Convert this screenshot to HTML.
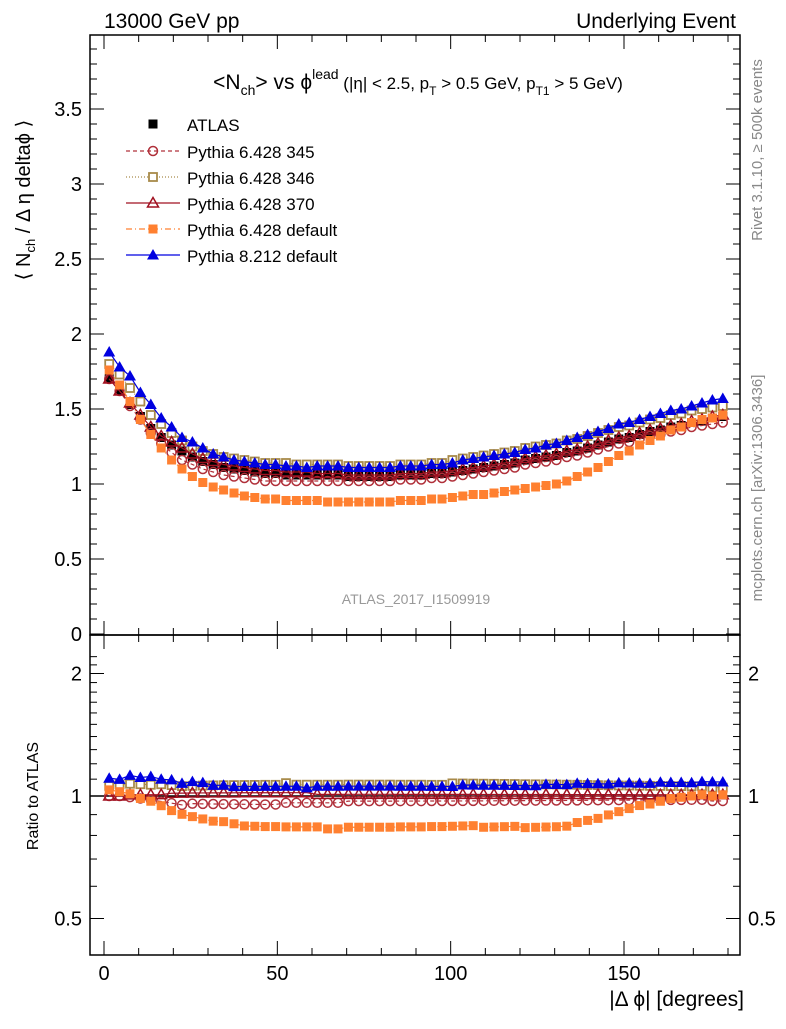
<!DOCTYPE html>
<html><head><meta charset="utf-8"><style>
body{margin:0;background:#fff;}
svg{font-family:"Liberation Sans",sans-serif;}
</style></head><body>
<svg id="c" width="786" height="1024" xmlns="http://www.w3.org/2000/svg">
<text x="104" y="28" font-size="21">13000 GeV pp</text>
<text x="736" y="28" font-size="21" text-anchor="end">Underlying Event</text>
<text x="418" y="89" font-size="21" text-anchor="middle">&lt;N<tspan font-size="14" dy="6">ch</tspan><tspan dy="-6">&gt; vs ϕ</tspan><tspan font-size="14" dy="-10">lead</tspan><tspan font-size="17" dy="10"> (|η| &lt; 2.5, p</tspan><tspan font-size="12" dy="6">T</tspan><tspan font-size="17" dy="-6"> &gt; 0.5 GeV, p</tspan><tspan font-size="12" dy="6">T1</tspan><tspan font-size="17" dy="-6"> &gt; 5 GeV)</tspan></text>
<text transform="translate(30,200) rotate(-90)" font-size="20" text-anchor="middle">⟨ N<tspan font-size="13" dy="5">ch</tspan><tspan dy="-5"> / Δ η deltaϕ ⟩</tspan></text>
<text transform="translate(38,796) rotate(-90)" font-size="16" text-anchor="middle">Ratio to ATLAS</text>
<text x="744" y="1006" font-size="21" text-anchor="end">|Δ ϕ| [degrees]</text>
<text transform="translate(762,150) rotate(-90)" font-size="15" fill="#888" text-anchor="middle">Rivet 3.1.10, ≥ 500k events</text>
<text transform="translate(762,488) rotate(-90)" font-size="15" fill="#888" text-anchor="middle">mcplots.cern.ch [arXiv:1306.3436]</text>
<text x="416" y="604" font-size="14" fill="#999" text-anchor="middle">ATLAS_2017_I1509919</text>
<g id="g"></g>
</svg>
<script>
const phi=[];for(let i=0;i<60;i++)phi.push(1.5+3*i);
const atlas=[1.70,1.62,1.53,1.45,1.37,1.31,1.26,1.22,1.18,1.15,1.13,1.11,1.10,1.09,1.08,1.07,1.07,1.06,1.06,1.06,
1.06,1.06,1.06,1.05,1.05,1.05,1.05,1.05,1.06,1.06,
1.06,1.07,1.07,1.08,1.09,1.10,1.11,1.12,1.13,1.14,
1.16,1.17,1.18,1.19,1.21,1.22,1.24,1.26,1.28,1.30,
1.31,1.33,1.35,1.36,1.38,1.39,1.41,1.42,1.44,1.45];
const p345=[1.70,1.62,1.52,1.43,1.34,1.27,1.21,1.16,1.13,1.10,1.08,1.06,1.05,1.04,1.03,1.02,1.02,1.02,1.02,1.02,
1.02,1.02,1.02,1.02,1.02,1.02,1.02,1.02,1.03,1.03,
1.03,1.04,1.04,1.05,1.06,1.07,1.08,1.09,1.10,1.11,
1.13,1.14,1.15,1.16,1.18,1.19,1.21,1.23,1.25,1.27,
1.28,1.30,1.32,1.33,1.35,1.36,1.38,1.39,1.40,1.41];
const p346=[1.80,1.73,1.64,1.55,1.46,1.40,1.34,1.29,1.25,1.22,1.20,1.18,1.17,1.16,1.15,1.14,1.14,1.14,1.13,1.13,
1.13,1.13,1.13,1.12,1.12,1.12,1.12,1.12,1.13,1.13,
1.13,1.14,1.14,1.16,1.17,1.18,1.19,1.20,1.21,1.22,
1.24,1.25,1.26,1.27,1.29,1.30,1.32,1.34,1.36,1.38,
1.39,1.41,1.43,1.44,1.46,1.47,1.49,1.50,1.51,1.52];
const p370=[1.70,1.62,1.54,1.46,1.38,1.32,1.28,1.24,1.20,1.17,1.15,1.13,1.12,1.11,1.10,1.09,1.09,1.08,1.08,1.08,
1.07,1.07,1.07,1.06,1.06,1.06,1.06,1.06,1.07,1.07,
1.07,1.08,1.08,1.09,1.10,1.11,1.12,1.13,1.14,1.15,
1.17,1.18,1.19,1.20,1.22,1.23,1.25,1.27,1.29,1.31,
1.32,1.34,1.36,1.37,1.39,1.40,1.42,1.43,1.45,1.46];
const p6def=[1.76,1.66,1.55,1.43,1.33,1.24,1.16,1.10,1.05,1.01,0.98,0.96,0.94,0.92,0.91,0.90,0.90,0.89,0.89,0.89,
0.89,0.88,0.88,0.88,0.88,0.88,0.88,0.88,0.89,0.89,
0.89,0.90,0.90,0.91,0.92,0.93,0.93,0.94,0.95,0.96,
0.97,0.98,0.99,1.00,1.02,1.05,1.08,1.11,1.15,1.19,
1.22,1.26,1.29,1.32,1.36,1.38,1.41,1.43,1.44,1.46];
const p8def=[1.88,1.78,1.72,1.61,1.53,1.44,1.38,1.31,1.28,1.24,1.20,1.18,1.16,1.15,1.14,1.13,1.13,1.12,1.12,1.11,
1.12,1.12,1.12,1.11,1.11,1.11,1.11,1.11,1.12,1.12,
1.12,1.13,1.13,1.14,1.16,1.17,1.18,1.19,1.20,1.21,
1.23,1.24,1.26,1.27,1.29,1.31,1.33,1.35,1.37,1.40,
1.41,1.43,1.45,1.47,1.49,1.50,1.52,1.54,1.56,1.57];
const mainTicks=[0,0.5,1,1.5,2,2.5,3,3.5];
const ratioTicks=[0.5,1,2];
const xTicks=[0,50,100,150];

const NS="http://www.w3.org/2000/svg",g=document.getElementById('g');
const X=v=>104+v*520/150, Y=v=>634-v*150, R=v=>796-122.5*Math.log2(v);
const L=90,RT=740,T=35,MB=635,B=955;
function el(t,a,p){const e=document.createElementNS(NS,t);for(const k in a)e.setAttribute(k,a[k]);(p||g).appendChild(e);return e;}
let f=el('rect',{x:L,y:T,width:RT-L,height:MB-T,fill:'none',stroke:'#000','stroke-width':1.5});


f=el('rect',{x:L,y:MB,width:RT-L,height:B-MB,fill:'none',stroke:'#000','stroke-width':1.5});


for(let v=0;v<=3.95;v+=0.1){const y=Y(v);if(y<T)break;const big=Math.abs(v*2-Math.round(v*2))<1e-6;
el('line',{x1:L,x2:L+(big?14:7),y1:y,y2:y,stroke:'#000'});el('line',{x1:RT,x2:RT-(big?14:7),y1:y,y2:y,stroke:'#000'});}
mainTicks.forEach(v=>{const t=el('text',{x:82,y:Y(v)+7,'font-size':20,'text-anchor':'end'});t.textContent=v;

});
[0.5,0.6,0.7,0.8,0.9,1,1.1,1.2,1.3,1.4,1.5,1.6,1.7,1.8,1.9,2,2.1,2.2].forEach(v=>{const y=R(v);if(y<MB)return;const big=ratioTicks.includes(v);
el('line',{x1:L,x2:L+(big?14:7),y1:y,y2:y,stroke:'#000'});el('line',{x1:RT,x2:RT-(big?14:7),y1:y,y2:y,stroke:'#000'});});
ratioTicks.forEach(v=>{let t=el('text',{x:82,y:R(v)+7,'font-size':20,'text-anchor':'end'});t.textContent=v;


t=el('text',{x:748,y:R(v)+7,'font-size':20});t.textContent=v;

});
for(let v=0;v<=185;v+=10){const x=X(v);if(x>RT)break;const big=v%50==0;
[[T,1],[MB,-1],[MB,1],[B,-1]].forEach(([y0,d])=>el('line',{x1:x,x2:x,y1:y0,y2:y0+d*(big?14:7),stroke:'#000'}));}
xTicks.forEach(v=>{const t=el('text',{x:X(v),y:980,'font-size':20,'text-anchor':'middle'});t.textContent=v;

});
el('line',{x1:L,x2:RT,y1:R(1),y2:R(1),stroke:'#000','stroke-width':1.5});

function marker(p,x,y,m,c){
 if(m=='sq')el('rect',{x:x-4.5,y:y-4.5,width:9,height:9,fill:c},p);
 else if(m=='osq')el('rect',{x:x-4,y:y-4,width:8,height:8,fill:'#fff',stroke:c,'stroke-width':1.8},p);
 else if(m=='oc')el('circle',{cx:x,cy:y,r:4.5,fill:'none',stroke:c,'stroke-width':1.5},p);
 else if(m=='tri')el('polygon',{points:`${x},${y-6} ${x-6},${y+4.5} ${x+6},${y+4.5}`,fill:c},p);
 else if(m=='otri')el('polygon',{points:`${x},${y-5.5} ${x-5.5},${y+4} ${x+5.5},${y+4}`,fill:'none',stroke:c,'stroke-width':1.5},p);
}
const series=[
 {n:'pythia-6428-345',d:p345,c:'#b0303a',m:'oc',dash:'4,3',lab:'Pythia 6.428 345'},
 {n:'pythia-6428-346',d:p346,c:'#a88a4a',m:'osq',dash:'1,2',lab:'Pythia 6.428 346'},
 {n:'pythia-6428-370',d:p370,c:'#a01020',m:'otri',dash:'',lab:'Pythia 6.428 370'},
 {n:'pythia-6428-default',d:p6def,c:'#ff8030',m:'sq',dash:'6,3,1,3',lab:'Pythia 6.428 default'},
 {n:'pythia-8212-default',d:p8def,c:'#0000e0',m:'tri',dash:'',lab:'Pythia 8.212 default'}];
let ga=el('g',{});


phi.forEach((p,i)=>marker(ga,X(p),Y(atlas[i]),'sq','#000'));
series.forEach(s=>{
 const gm=el('g',{});
 
 
 el('polyline',{points:phi.map((p,i)=>X(p)+','+Y(s.d[i])).join(' '),fill:'none',stroke:s.c,'stroke-width':1.2,'stroke-dasharray':s.dash},gm);
 phi.forEach((p,i)=>marker(gm,X(p),Y(s.d[i]),s.m,s.c));
 const gr=el('g',{});
 
 
 el('polyline',{points:phi.map((p,i)=>X(p)+','+R(s.d[i]/atlas[i])).join(' '),fill:'none',stroke:s.c,'stroke-width':1.2,'stroke-dasharray':s.dash},gr);
 phi.forEach((p,i)=>marker(gr,X(p),R(s.d[i]/atlas[i]),s.m,s.c));
});
const lg=el('g',{});


marker(lg,153,124,'sq','#000');
let t=el('text',{x:187,y:131,'font-size':17},lg);t.textContent='ATLAS';
series.forEach((s,k)=>{const y=151+k*26;
 const e=el('g',{},lg);
 
 
 el('line',{x1:126,x2:180,y1:y,y2:y,stroke:s.c,'stroke-width':1.2,'stroke-dasharray':s.dash},e);
 marker(e,153,y,s.m,s.c);
 const tt=el('text',{x:187,y:y+7,'font-size':17},e);tt.textContent=s.lab;});
</script>
</body></html>
